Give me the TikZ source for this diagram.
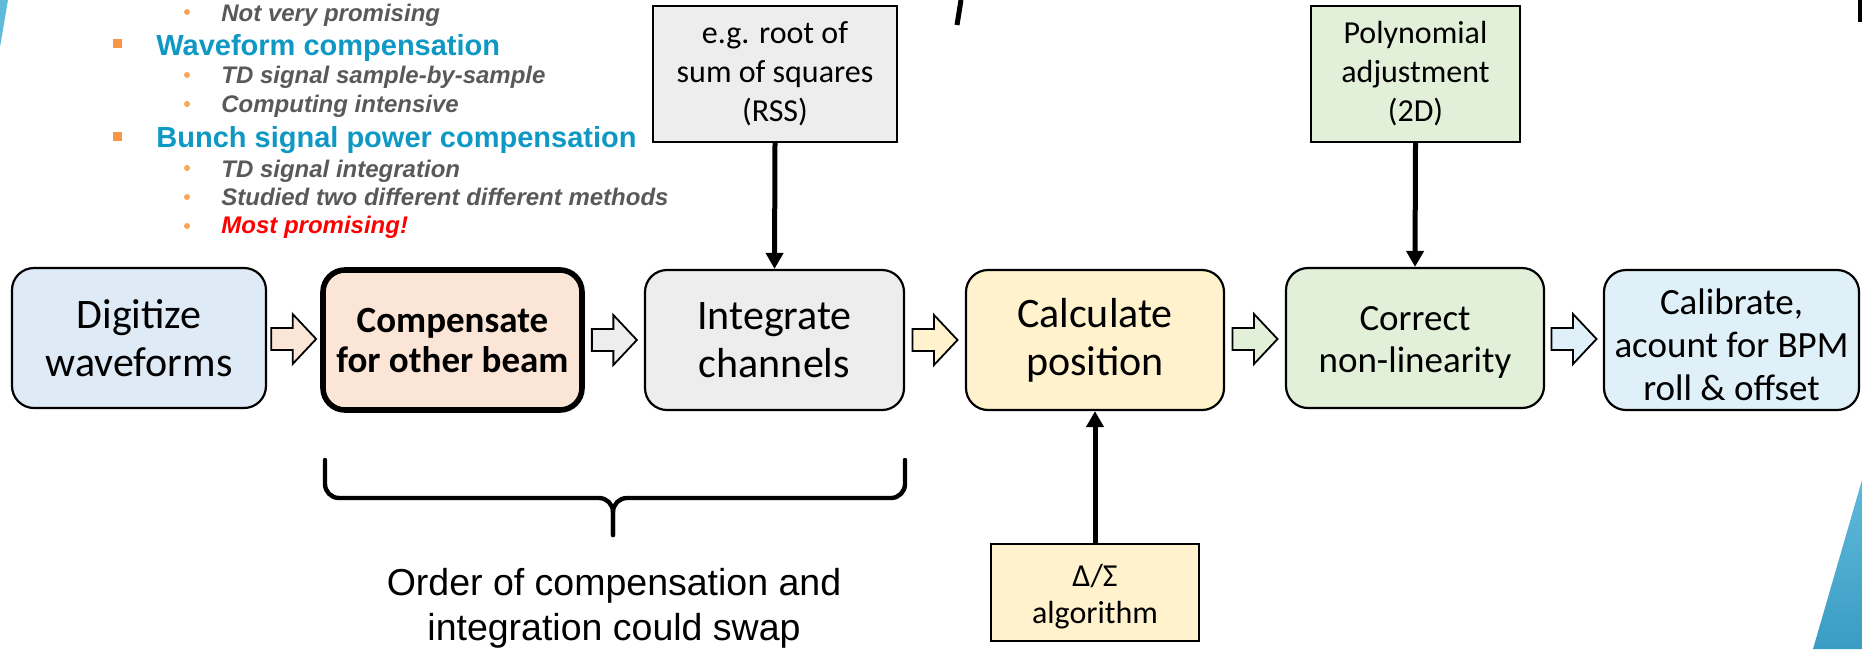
\documentclass[tikz,border=0pt]{standalone}
\usepackage{fontspec}
\setmainfont{Carlito}
\newfontfamily\arialf{Liberation Sans}
\usetikzlibrary{arrows.meta,calc}
\definecolor{cblue}{RGB}{222,235,247}
\definecolor{cpeach}{RGB}{251,229,214}
\definecolor{cgray}{RGB}{237,237,237}
\definecolor{cyellow}{RGB}{255,242,204}
\definecolor{cgreen}{RGB}{226,240,217}
\definecolor{ccyan}{RGB}{223,240,248}
\definecolor{tblue}{RGB}{14,152,196}
\definecolor{tgray}{RGB}{89,89,89}
\definecolor{borange}{RGB}{247,150,70}
\definecolor{dorange}{RGB}{250,165,90}
\definecolor{decoblue}{RGB}{95,186,217}
\definecolor{decoblueb}{RGB}{58,156,196}
\newcommand\blockarr[3]{%
  \coordinate (#1#2m) at ($(#1.east)!0.5!(#2.west)$);
  \draw[barrow, fill=#3] ($(#1#2m)+(-22.5,-11)$) -- ++(21.5,0) -- ++(0,-14)
    -- ($(#1#2m)+(22.5,0)$) -- ($(#1#2m)+(-1,25)$) -- ++(0,-14)
    -- ($(#1#2m)+(-22.5,11)$) -- cycle;}
\begin{document}
\begin{tikzpicture}[x=0.5pt,y=-0.5pt,
  stage/.style={draw=black, line width=1.1pt, rounded corners=11pt, align=center,
    minimum height=70pt, inner sep=0pt},
  bigtext/.style={font=\fontsize{21}{24}\selectfont},
  note/.style={draw=black, line width=0.9pt, align=center, inner sep=0pt,
    font=\fontsize{16}{19.5}\selectfont},
  vline/.style={line width=2.5pt, -{Triangle[width=8.5pt,length=8pt]}},
  barrow/.style={draw=black, line width=0.9pt, line join=miter},
  blt/.style={font=\arialf\bfseries\fontsize{14.5}{17}\selectfont, text=tblue,
    anchor=base west, inner sep=0pt},
  sub/.style={font=\arialf\bfseries\itshape\fontsize{12}{14}\selectfont, text=tgray,
    anchor=base west, inner sep=0pt},
  bracestyle/.style={line width=2.2pt, rounded corners=7pt, line cap=round},
]
\useasboundingbox (0,0) rectangle (1862,649);

% decorations at edges
\fill[decoblue] (0,0) -- (8,0) -- (0,47) -- cycle;
\shade[top color=decoblue, bottom color=decoblueb] (1862,480) -- (1813,649) -- (1862,649) -- cycle;
\fill[black] (1858,0) rectangle (1862,22);
\draw[line width=2.5pt] (961,0) -- (957,25);

% bullet list
\fill[borange] (112.5,39) rectangle (121.5,48);
\fill[borange] (112.5,132) rectangle (121.5,141);
\foreach \yy in {12,75,104,168,197,226}
  \fill[dorange] (187,\yy) circle[radius=1.5pt];
\node[sub] (t1) at (221,21) {Not very promising};
\node[blt] (t2) at (156,55) {Waveform compensation};
\node[sub] (t3) at (221,83) {TD signal sample-by-sample};
\node[sub] (t4) at (221,112) {Computing intensive};
\node[blt] (t5) at (156,147) {Bunch signal power compensation};
\node[sub] (t6) at (221,177) {TD signal integration};
\node[sub] (t7) at (221,205) {Studied two different different methods};
\node[sub, text=red] (t8) at (221,233) {Most promising!};

% main stages
\node[stage, bigtext, fill=cblue, minimum width=127pt] (dig) at (139,338) {Digitize\\waveforms};
\node[stage, fill=cpeach, line width=2.8pt, minimum width=129.5pt,
  font=\bfseries\fontsize{18.5}{20}\selectfont] (comp) at (452.5,340) {Compensate\\for other beam};
\node[stage, bigtext, fill=cgray, minimum width=129.5pt] (int) at (774.5,340) {Integrate\\channels};
\node[stage, bigtext, fill=cyellow, minimum width=129pt] (calc) at (1095,340) {Calculate\\position};
\node[stage, fill=cgreen, minimum width=129pt, font=\fontsize{18.5}{21}\selectfont] (corr) at (1415,338) {\rule{0pt}{16pt}Correct\\non-linearity};
\node[stage, fill=ccyan, minimum width=127.5pt, font=\fontsize{18.5}{21.5}\selectfont] (cal) at (1731.5,340) {\rule{0pt}{18pt}Calibrate,\\acount for BPM\\roll \& offset};

% side notes
\node[note, fill=cgray, minimum width=122pt, minimum height=68pt] (rss) at (775,74) {e.g. root of\\sum of squares\\(RSS)};
\node[note, fill=cgreen, minimum width=104.5pt, minimum height=68pt] (poly) at (1415.5,74) {Polynomial\\adjustment\\(2D)};
\node[note, fill=cyellow, minimum width=104pt, minimum height=48.5pt,
  font=\fontsize{16}{18.5}\selectfont] (alg) at (1095,592.5) {\rule{0pt}{15pt}Δ/Σ\\algorithm};

% vertical arrows
\draw[vline] (rss.south) -- (int.north);
\draw[vline] (poly.south) -- (corr.north);
\draw[vline] (alg.north) -- (calc.south);

% block arrows
\blockarr{dig}{comp}{cpeach}
\blockarr{comp}{int}{cgray}
\blockarr{int}{calc}{cyellow}
\blockarr{calc}{corr}{cgreen}
\blockarr{corr}{cal}{ccyan}

% brace
\draw[bracestyle] (325,460) -- (325,498) -- (613,498) -- (613,535);
\draw[bracestyle] (905,460) -- (905,498) -- (613,498) -- (613,535);
\node[font=\arialf\fontsize{18.75}{22.5}\selectfont, align=center, inner sep=0pt] (swap) at (614,608)
  {Order of compensation and\\integration could swap};
\end{tikzpicture}
\end{document}
